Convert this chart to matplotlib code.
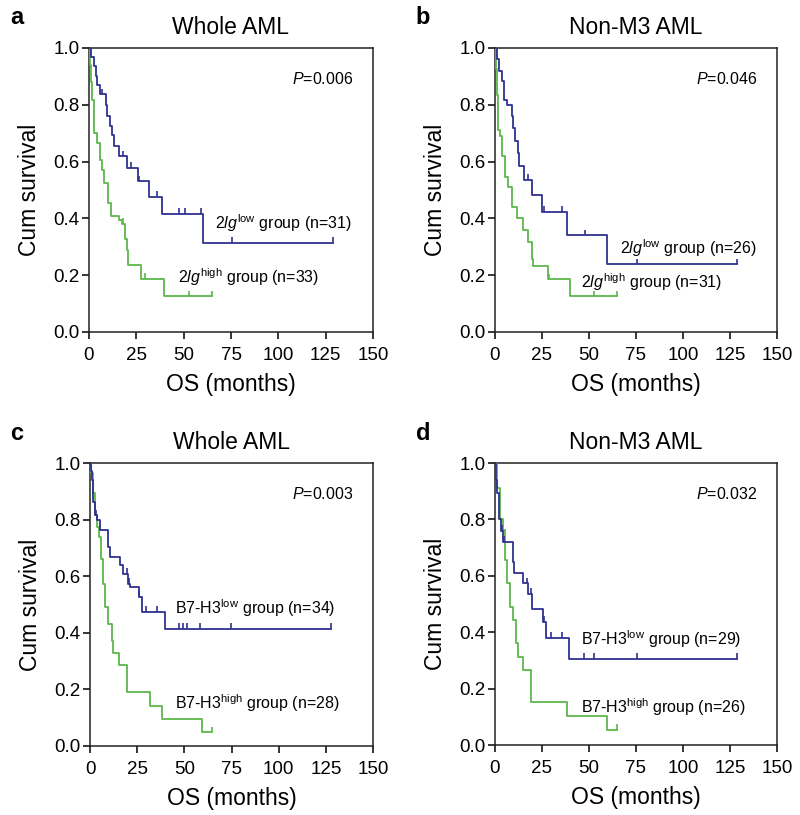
import numpy as np
import matplotlib
matplotlib.use("Agg")
import matplotlib.pyplot as plt

plt.rcParams['font.family'] = ['Liberation Sans', 'DejaVu Sans']
plt.rcParams['mathtext.fontset'] = 'custom'
plt.rcParams['mathtext.rm'] = 'Liberation Sans'
plt.rcParams['mathtext.it'] = 'Liberation Sans:italic'

# ---------------- data (months, cumulative survival) ----------------
# Panel a: Whole AML, 2lg
a_low_t = [1.3, 2.6, 3.5, 4.4, 5.8, 8.8, 9.7, 10.9, 12.4, 13.2, 15.9, 20.0, 26.1, 31.8, 38.5, 60.0]
a_low_s = [0.968, 0.935, 0.903, 0.871, 0.837, 0.800, 0.760, 0.724, 0.695, 0.656, 0.618, 0.577, 0.530, 0.476, 0.417, 0.314]
a_low_c = [6.7, 17.7, 22.1, 26.5, 35.8, 47.7, 50.8, 59.1, 75.4, 128.9]
a_high_t = [0.4, 0.9, 1.8, 2.6, 4.4, 5.8, 7.1, 7.9, 10.2, 11.8, 15.9, 17.3, 19.1, 20.3, 20.8, 27.4, 39.7]
a_high_s = [0.94, 0.88, 0.818, 0.700, 0.665, 0.606, 0.571, 0.524, 0.453, 0.410, 0.394, 0.382, 0.329, 0.288, 0.235, 0.188, 0.126]
a_high_c = [18.2, 29.5, 53.0, 65.0]

# Panel b: Non-M3 AML, 2lg
b_low_t = [1.2, 2.1, 3.5, 5.0, 6.6, 8.9, 9.8, 10.6, 12.1, 12.9, 15.4, 19.5, 24.8, 38.5, 59.4]
b_low_s = [0.960, 0.919, 0.883, 0.818, 0.800, 0.760, 0.718, 0.671, 0.630, 0.583, 0.535, 0.482, 0.423, 0.340, 0.238]
b_low_c = [17.4, 26.1, 35.5, 47.9, 75.4, 128.5]
b_high_t = [0.3, 0.9, 1.8, 2.7, 3.5, 5.3, 7.1, 9.2, 11.5, 15.1, 17.7, 19.5, 20.4, 28.2, 40.0]
b_high_s = [0.925, 0.836, 0.712, 0.689, 0.618, 0.547, 0.512, 0.441, 0.400, 0.358, 0.317, 0.258, 0.232, 0.185, 0.126]
b_high_c = [28.7, 52.8, 64.7]

# Panel c: Whole AML, B7-H3
c_low_t = [0.5, 0.9, 1.8, 2.6, 3.5, 5.3, 9.7, 10.6, 15.9, 17.7, 20.3, 21.2, 26.1, 27.4, 39.7]
c_low_s = [0.970, 0.939, 0.862, 0.815, 0.797, 0.762, 0.703, 0.667, 0.638, 0.608, 0.573, 0.561, 0.526, 0.473, 0.414]
c_low_c = [3.2, 3.9, 19.4, 20.8, 26.1, 29.5, 35.7, 47.3, 49.4, 51.2, 58.3, 74.7, 128.0]
c_high_t = [0.5, 1.5, 2.6, 3.5, 4.9, 5.6, 6.7, 7.9, 9.7, 11.5, 12.4, 15.5, 19.4, 31.8, 38.0, 59.1]
c_high_s = [0.964, 0.893, 0.815, 0.774, 0.738, 0.662, 0.573, 0.490, 0.430, 0.372, 0.330, 0.285, 0.190, 0.142, 0.095, 0.048]
c_high_c = [64.4]

# Panel d: Non-M3 AML, B7-H3
d_low_t = [0.5, 1.2, 2.1, 3.0, 4.4, 9.4, 10.3, 15.1, 17.7, 19.5, 25.4, 27.1, 39.5]
d_low_s = [0.940, 0.892, 0.800, 0.760, 0.720, 0.650, 0.610, 0.573, 0.537, 0.484, 0.437, 0.380, 0.305]
d_low_c = [3.9, 5.0, 17.2, 19.0, 26.1, 29.8, 35.5, 47.5, 52.7, 75.4, 128.5]
d_high_t = [0.9, 2.7, 4.4, 5.3, 6.6, 8.0, 9.4, 11.0, 12.3, 15.0, 19.3, 38.5, 59.4]
d_high_s = [0.910, 0.800, 0.762, 0.656, 0.573, 0.490, 0.443, 0.362, 0.313, 0.265, 0.154, 0.103, 0.053]
d_high_c = [64.7]

panel_letters = ['a', 'b', 'c', 'd']
panel_titles = ['Whole AML', 'Non-M3 AML', 'Whole AML', 'Non-M3 AML']
p_values = ['0.006', '0.046', '0.003', '0.032']
low_labels = [r'$\mathit{2lg}^{\mathrm{low}}$ group (n=31)',
              r'$\mathit{2lg}^{\mathrm{low}}$ group (n=26)',
              r'B7-H3$^{\mathrm{low}}$ group (n=34)',
              r'B7-H3$^{\mathrm{low}}$ group (n=29)']
high_labels = [r'$\mathit{2lg}^{\mathrm{high}}$ group (n=33)',
               r'$\mathit{2lg}^{\mathrm{high}}$ group (n=31)',
               r'B7-H3$^{\mathrm{high}}$ group (n=28)',
               r'B7-H3$^{\mathrm{high}}$ group (n=26)']
x_ticks = [0, 25, 50, 75, 100, 125, 150]
y_ticks = [0.0, 0.2, 0.4, 0.6, 0.8, 1.0]

BLUE = '#2e3190'
GREEN = '#5cb84a'

# label positions (data coords)
low_pos = [(66.7, 0.384), (66.5, 0.296), (45.0, 0.488), (45.7, 0.376)]
high_pos = [(47.0, 0.194), (46.0, 0.176), (45.0, 0.152), (45.7, 0.135)]

W, H = 800, 815
fig = plt.figure(figsize=(W / 100, H / 100), dpi=100)
boxes = [(89, 48, 373, 332), (495, 48, 777, 332), (90, 463, 373, 746), (495, 463, 777, 745)]
letter_pos = [(17, 18), (423, 18), (17, 433), (423, 433)]

curves = [
    (a_low_t, a_low_s, a_low_c, a_high_t, a_high_s, a_high_c),
    (b_low_t, b_low_s, b_low_c, b_high_t, b_high_s, b_high_c),
    (c_low_t, c_low_s, c_low_c, c_high_t, c_high_s, c_high_c),
    (d_low_t, d_low_s, d_low_c, d_high_t, d_high_s, d_high_c),
]


def draw_km(ax, t, s, c, color):
    end = max(max(c), t[-1])
    xs = [0.0] + list(t) + [end]
    ys = [1.0] + list(s) + [s[-1]]
    ax.step(xs, ys, where='post', color=color, lw=1.3, zorder=3)
    t_arr = np.array(t)
    s_arr = np.array(s)
    for ci in c:
        idx = np.searchsorted(t_arr, ci, side='right') - 1
        lvl = 1.0 if idx < 0 else s_arr[idx]
        ax.vlines(ci, lvl, lvl + 0.02, color=color, lw=1.2, zorder=3)


for i in range(4):
    l, tp, r, b = boxes[i]
    ax = fig.add_axes([l / W, 1 - b / H, (r - l) / W, (b - tp) / H])
    lt, ls, lc, ht, hs, hc = curves[i]
    draw_km(ax, ht, hs, hc, GREEN)
    draw_km(ax, lt, ls, lc, BLUE)
    ax.set_xlim(0, 150)
    ax.set_ylim(0, 1.0)
    ax.set_xticks(x_ticks)
    ax.set_yticks(y_ticks)
    ax.set_yticklabels([f'{v:.1f}' for v in y_ticks])
    ax.tick_params(direction='out', length=5, width=1.1, labelsize=13.5)
    ax.tick_params(axis='x', pad=6)
    ax.tick_params(axis='y', pad=2)
    for sp in ax.spines.values():
        sp.set_linewidth(1.1)
        sp.set_color('#222222')
    ax.set_xlabel('OS (months)', fontsize=16.5, labelpad=6)
    ax.set_ylabel('Cum survival', fontsize=16.5, labelpad=9)
    ax.set_title(panel_titles[i], fontsize=16.5, pad=10)
    ax.text(0.93, 0.89, r'$\mathit{P}$=' + p_values[i], transform=ax.transAxes,
            ha='right', va='center', fontsize=11.5)
    ax.text(low_pos[i][0], low_pos[i][1], low_labels[i], ha='left', va='center', fontsize=11.5)
    ax.text(high_pos[i][0], high_pos[i][1], high_labels[i], ha='left', va='center', fontsize=11.5)
    fig.text(letter_pos[i][0] / W, 1 - letter_pos[i][1] / H, panel_letters[i],
             fontsize=17, fontweight='bold', ha='center', va='center')

fig.savefig('out.png', dpi=100)
